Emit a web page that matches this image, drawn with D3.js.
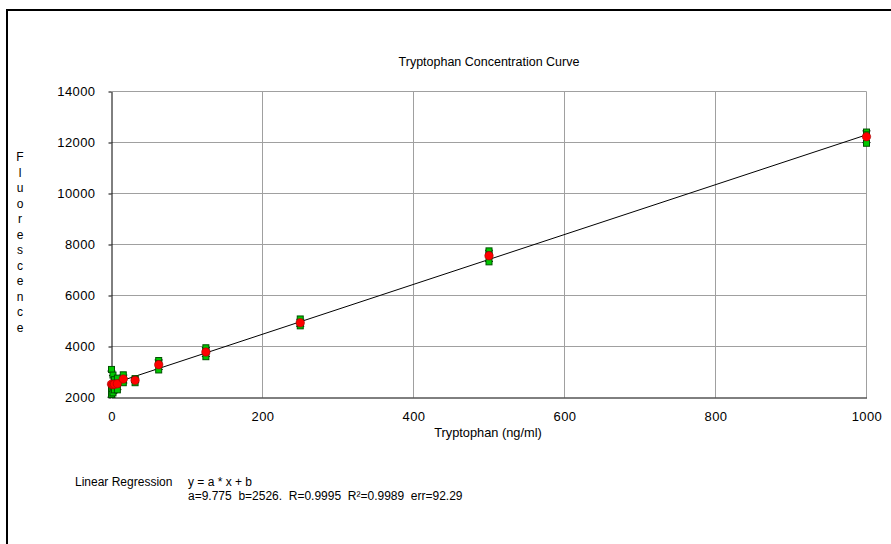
<!DOCTYPE html>
<html><head><meta charset="utf-8">
<script src="https://cdn.jsdelivr.net/npm/d3@7/dist/d3.min.js"></script>
<style>
body{margin:0;background:#fff;}
svg{display:block;font-family:"Liberation Sans",Arial,sans-serif;}
</style></head>
<body><svg id="c" width="891" height="544"></svg>
<script>
const concentrations = [0, 1.95, 3.9, 7.8, 15.6, 31.25, 62.5, 125, 250, 500, 1000];
const rep1 = [3100, 2880, 2700, 2760, 2890, 2740, 3450, 3950, 5080, 7750, 12410];
const rep2 = [2350, 2450, 2560, 2560, 2700, 2700, 3330, 3800, 4900, 7600, 12300];
const rep3 = [2120, 2180, 2300, 2300, 2580, 2580, 3080, 3600, 4810, 7320, 11970];
const xTicks = [0, 200, 400, 600, 800, 1000];
const yTicks = [2000, 4000, 6000, 8000, 10000, 12000, 14000];
const slope = 9.775, intercept = 2526;
const titleText = "Tryptophan Concentration Curve";
const xLabel = "Tryptophan (ng/ml)";
const yLabel = "Fluorescence";
const regLine1 = ["Linear Regression", "y = a * x + b"];
const regLine2 = "a=9.775  b=2526.  R=0.9995  R²=0.9989  err=92.29";

const svg = d3.select("#c");
const x = d3.scaleLinear().domain([0, 1000]).range([111.5, 866.5]);
const y = d3.scaleLinear().domain([2000, 14000]).range([397.5, 91.5]);

// frame (top and left)
svg.append("line").attr("x1",7).attr("x2",891).attr("y1",10).attr("y2",10).attr("stroke","#000").attr("stroke-width",2);
svg.append("line").attr("x1",7).attr("x2",7).attr("y1",9).attr("y2",544).attr("stroke","#000").attr("stroke-width",2);

// grid
svg.append("g").selectAll("line").data(yTicks.filter(d=>d>2000)).join("line")
  .attr("x1",x(0)).attr("x2",x(1000)).attr("y1",d=>y(d)).attr("y2",d=>y(d))
  .attr("stroke","#a0a0a0").attr("stroke-width",1);
svg.append("g").selectAll("line").data(xTicks.filter(d=>d>0)).join("line")
  .attr("x1",d=>x(d)).attr("x2",d=>x(d)).attr("y1",y(14000)).attr("y2",y(2000))
  .attr("stroke","#a0a0a0").attr("stroke-width",1);

// axes
const yAxis = d3.axisLeft(y).tickValues(yTicks).tickSize(3).tickSizeOuter(0).tickFormat(d3.format("d"));
const gy = svg.append("g").attr("transform",`translate(${x(0)},0)`).call(yAxis);
gy.select(".domain").attr("stroke","#000");
gy.selectAll("text").attr("x",-16).attr("font-size",13).attr("letter-spacing",0.4).attr("fill","#000");
const xAxis = d3.axisBottom(x).tickValues(xTicks).tickSize(0).tickSizeOuter(0).tickFormat(d3.format("d"));
const gx = svg.append("g").attr("transform",`translate(0,${y(2000)})`).call(xAxis);
gx.select(".domain").attr("stroke","#000");
gx.selectAll("text").attr("y",14).attr("font-size",13).attr("letter-spacing",0.4).attr("fill","#000");

// regression line
svg.append("line").attr("x1",x(0)).attr("y1",y(intercept)).attr("x2",x(1000)).attr("y2",y(slope*1000+intercept))
  .attr("stroke","#000").attr("stroke-width",1);

const data = concentrations.map((c,i)=>{
  const vals=[rep1[i],rep2[i],rep3[i]];
  const m=d3.mean(vals), s=d3.deviation(vals);
  return {c, vals, m, s};
});

// error bars
const eb = svg.append("g").attr("stroke","#000").attr("stroke-width",1);
data.forEach(d=>{
  const lo=y(d.m-d.s), hi=y(d.m+d.s), cx=x(d.c);
  eb.append("line").attr("x1",cx).attr("x2",cx).attr("y1",lo).attr("y2",hi);
  eb.append("line").attr("x1",cx-4).attr("x2",cx+4).attr("y1",lo).attr("y2",lo);
  eb.append("line").attr("x1",cx-4).attr("x2",cx+4).attr("y1",hi).attr("y2",hi);
});
// green replicate squares
const gsq = svg.append("g");
data.forEach(d=>{
  gsq.selectAll(null).data(d.vals).join("rect")
    .attr("x",x(d.c)-3).attr("y",v=>y(v)-3).attr("width",6).attr("height",6)
    .attr("fill","#00c800").attr("stroke","#005000").attr("stroke-width",1);
});
// red means
svg.append("g").selectAll("circle").data(data).join("circle")
  .attr("cx",d=>x(d.c)).attr("cy",d=>y(d.m)).attr("r",4.2)
  .attr("fill","#ff0000").attr("stroke","#a00000").attr("stroke-width",0.6);

// title
svg.append("text").attr("x",489).attr("y",66).attr("text-anchor","middle").attr("font-size",12.5).text(titleText);
svg.append("text").attr("x",488).attr("y",437).attr("text-anchor","middle").attr("font-size",12.8).text(xLabel);
// vertical stacked y label
const letters = yLabel.split("");
svg.append("g").selectAll("text").data(letters).join("text")
  .attr("x",20).attr("y",(d,i)=>161+i*15.5).attr("text-anchor","middle").attr("font-size",12).text(d=>d);

// regression text
svg.append("text").attr("x",75).attr("y",486).attr("font-size",12).text(regLine1[0]);
svg.append("text").attr("x",188).attr("y",486).attr("font-size",12).text(regLine1[1]);
svg.append("text").attr("x",188).attr("y",500).attr("font-size",12).style("white-space","pre").text(regLine2);
</script>
</body></html>
